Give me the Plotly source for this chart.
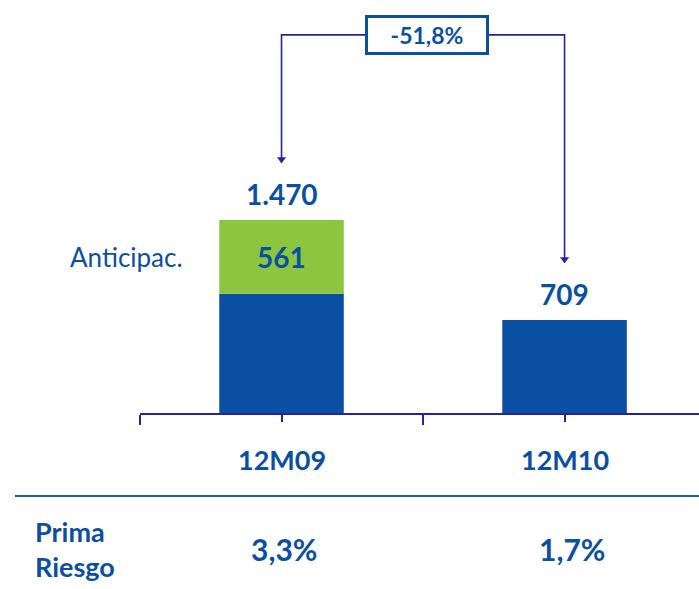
import plotly.graph_objects as go

# Provisiones: total, anticipadas y prima de riesgo por periodo
periodos = ["12M09", "12M10"]
total = [1470, 709]
anticipadas = [561, 0]
prima_riesgo = [3.3, 1.7]

BLUE = "#0b4fa3"
GREEN = "#8cc63f"
NAVY = "#2424a0"
FONT = "Lato"

base = [t - a for t, a in zip(total, anticipadas)]
xs = list(range(len(periodos)))


def fmt_miles(v):
    return f"{v:,}".replace(",", ".")


def fmt_pct(v):
    return f"{v:.1f}%".replace(".", ",")


fig = go.Figure()

fig.add_trace(go.Bar(x=xs, y=base, width=0.44, marker=dict(color=BLUE, line_width=0),
                     hoverinfo="skip"))
fig.add_trace(go.Bar(x=xs, y=anticipadas, base=base, width=0.44,
                     marker=dict(color=GREEN, line_width=0), hoverinfo="skip"))

# Corchete de variación entre periodos
top = 2880
gap = 437
tips = [t + gap for t in total]
fig.add_trace(go.Scatter(x=[xs[0], xs[0], xs[1], xs[1]], y=[tips[0], top, top, tips[1]],
                         mode="lines", line=dict(color=NAVY, width=1.6),
                         hoverinfo="skip", cliponaxis=False))
fig.add_trace(go.Scatter(x=xs, y=[t + 25 for t in tips], mode="markers",
                         marker=dict(symbol="triangle-down", size=8, color=NAVY),
                         hoverinfo="skip", cliponaxis=False))

ann = []
var = (total[1] / total[0] - 1) * 100
ann.append(dict(x=0.5, y=top, xref="x", yref="y", text=f"<b>{fmt_pct(var)}</b>",
                showarrow=False, xshift=4, yanchor="middle",
                font=dict(family=FONT, size=23, color=BLUE),
                bgcolor="white", bordercolor=BLUE, borderwidth=3, borderpad=3,
                width=112, height=28))

for i, t in enumerate(total):
    ann.append(dict(x=xs[i], y=t, xref="x", yref="y", text=f"<b>{fmt_miles(t)}</b>",
                    showarrow=False, yanchor="middle", yshift=26,
                    font=dict(family=FONT, size=28, color=BLUE)))

for i, a in enumerate(anticipadas):
    if a:
        ann.append(dict(x=xs[i], y=base[i] + a / 2, xref="x", yref="y",
                        text=f"<b>{a}</b>", showarrow=False, yanchor="middle",
                        font=dict(family=FONT, size=28, color=BLUE)))
        ann.append(dict(x=xs[i] - 0.341, y=base[i] + a / 2, xref="x", yref="y",
                        text="Anticipac.", showarrow=False, xanchor="right",
                        yanchor="middle", font=dict(family=FONT, size=26, color=BLUE)))

for i, p in enumerate(periodos):
    ann.append(dict(x=xs[i], y=0, xref="x", yref="paper", text=f"<b>{p}</b>",
                    showarrow=False, yanchor="middle", yshift=-46,
                    font=dict(family=FONT, size=27, color=BLUE)))
    ann.append(dict(x=xs[i], y=0, xref="x", yref="paper", text=f"<b>{fmt_pct(prima_riesgo[i])}</b>",
                    showarrow=False, yanchor="middle", yshift=-136, xshift=2 + 5 * i,
                    font=dict(family=FONT, size=30, color=BLUE)))

ann.append(dict(x=-0.1914, y=0, xref="paper", yref="paper", text="<b>Prima<br>Riesgo</b>",
                showarrow=False, xanchor="left", yanchor="middle", align="left", yshift=-136,
                font=dict(family=FONT, size=27, color=BLUE)))

fig.update_layout(
    width=699, height=589,
    margin=dict(l=140, r=0, t=0, b=176),
    paper_bgcolor="white", plot_bgcolor="white",
    barmode="overlay", showlegend=False,
    annotations=ann,
    shapes=[dict(type="line", xref="paper", yref="paper", x0=-0.2236, x1=1.0,
                 y0=-0.201, y1=-0.201, line=dict(color="#1f5fb0", width=2))],
    xaxis=dict(range=[-0.5, 1.475], showgrid=False, zeroline=False,
               showline=True, linecolor=NAVY, linewidth=1.5,
               ticks="outside", tickvals=[-0.5, 0.5, 1.5], ticklen=10,
               tickcolor=NAVY, tickwidth=1.5, showticklabels=False,
               minor=dict(tickvals=[0, 1], ticks="outside", ticklen=7,
                          tickcolor=NAVY, tickwidth=1.5)),
    yaxis=dict(range=[0, 3146], visible=False, showgrid=False, zeroline=False),
)

fig.write_html("out.html")
